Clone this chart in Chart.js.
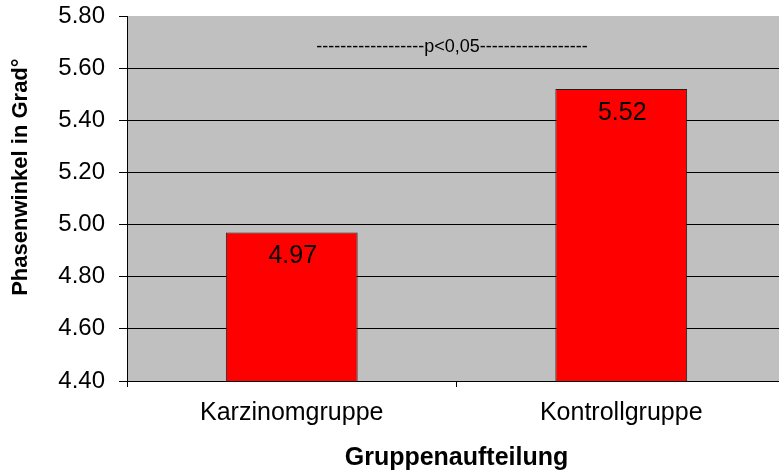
<!DOCTYPE html>
<html>
<head>
<meta charset="utf-8">
<script src="https://cdn.jsdelivr.net/npm/chart.js@4"></script>
<style>
	html, body { margin: 0; padding: 0; background: #fff; overflow: hidden; }
	#wrap { width: 786px; height: 473px; }
</style>
</head>
<body>
<div id="wrap"><canvas id="phaseChart"></canvas></div>
<script>
// data
const groups = ["Karzinomgruppe", "Kontrollgruppe"];
const phaseAngle = [4.97, 5.52];
const yTicks = [4.40, 4.60, 4.80, 5.00, 5.20, 5.40, 5.60, 5.80];
const pNote = "------------------p<0,05------------------";

const font = "'Liberation Sans', Arial, sans-serif";

// grey plot area behind the bars
const plotBackground = {
	id: "plotBackground",
	beforeDraw(chart) {
		const a = chart.chartArea;
		const ctx = chart.ctx;
		ctx.save();
		ctx.fillStyle = "#c0c0c0";
		ctx.fillRect(a.left, a.top, a.right - a.left, a.bottom - a.top);
		ctx.restore();
	}
};

// value inside each bar and the significance note
const barLabels = {
	id: "barLabels",
	afterDatasetsDraw(chart) {
		const ctx = chart.ctx;
		const meta = chart.getDatasetMeta(0);
		ctx.save();
		ctx.fillStyle = "#000";
		ctx.font = "25px " + font;
		ctx.textAlign = "center";
		ctx.textBaseline = "middle";
		meta.data.forEach((bar, i) => {
			ctx.fillText(phaseAngle[i].toFixed(2), bar.x + 1, bar.y + 24);
		});
		const y = chart.scales.y;
		ctx.font = "18px " + font;
		ctx.fillText(pNote, 452, y.getPixelForValue(5.681));
		ctx.restore();
	}
};

new Chart(document.getElementById("phaseChart"), {
	type: "bar",
	data: {
		labels: groups,
		datasets: [{
			data: phaseAngle,
			backgroundColor: "#ff0000",
			borderColor: "#202020",
			borderWidth: 1,
			borderSkipped: false,
			barPercentage: 0.4,
			categoryPercentage: 1
		}]
	},
	options: {
		responsive: true,
		maintainAspectRatio: false,
		animation: false,
		layout: { padding: { top: 16, left: 0, right: 0, bottom: 0 } },
		plugins: {
			legend: { display: false },
			tooltip: { enabled: false }
		},
		scales: {
			x: {
				grid: { drawOnChartArea: false, color: "#000", tickLength: 6 },
				border: { color: "#000" },
				ticks: { color: "#000", font: { family: font, size: 25 }, padding: 11 },
				title: {
					display: true,
					text: "Gruppenaufteilung",
					color: "#000",
					font: { family: font, size: 25, weight: "bold" },
					padding: { top: 10, bottom: 0 }
				},
				afterFit(scale) { scale.height = 92; }
			},
			y: {
				min: 4.4,
				max: 5.8,
				afterBuildTicks(scale) {
					scale.ticks = yTicks.map(v => ({ value: v }));
				},
				grid: {
					color: ctx => ctx.index === yTicks.length - 1 ? "#c0c0c0" : "#000",
					tickColor: "#000",
					tickLength: 8
				},
				border: { color: "#000" },
				ticks: {
					color: "#000",
					// small lineHeight so the top label does not push the plot down
					font: { family: font, size: 24, lineHeight: 0.1 },
					padding: 14,
					callback: v => v.toFixed(2)
				},
				title: {
					display: true,
					// leading spaces move the rotated title up, as in the original
					text: "       Phasenwinkel in Grad°",
					color: "#000",
					font: { family: font, size: 22, weight: "bold" },
					padding: { top: 8, bottom: 0 }
				},
				afterFit(scale) { scale.width = 127; }
			}
		}
	},
	plugins: [plotBackground, barLabels]
});
</script>
</body>
</html>
